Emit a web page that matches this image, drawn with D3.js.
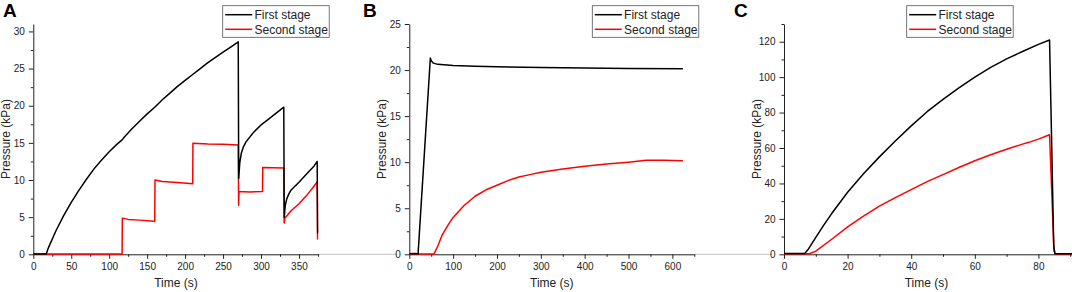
<!DOCTYPE html>
<html>
<head>
<meta charset="utf-8">
<script src="https://cdn.jsdelivr.net/npm/d3@7"></script>
<style>
  body { margin: 0; background: #fff; }
  svg { display: block; font-family: "Liberation Sans", Arial, sans-serif; }
</style>
</head>
<body>
<div id="chart"></div>
<script>
// ---- data (time s, pressure kPa) ----
const seriesNames = ["First stage", "Second stage"];
const seriesColors = ["#000000", "#ff0000"];

const aFirst = [[0,0.05],[17,0.05],[20,0.9],[30,3.2],[40,5.2],[50,7.0],[60,8.6],[70,10.1],[80,11.5],[90,12.7],[100,13.8],[110,14.8],[117,15.4],[120,15.8],[130,16.9],[140,17.9],[150,18.9],[160,19.8],[170,20.8],[180,21.7],[190,22.6],[200,23.4],[210,24.2],[220,25.0],[230,25.8],[240,26.5],[250,27.2],[260,27.9],[270,28.6],[270.6,10.2],[272,12.3],[274,13.6],[277,14.5],[280,15.1],[290,16.4],[301,17.5],[310,18.2],[320,19.0],[330,19.8],[330.6,5.0],[332,6.6],[334,7.5],[337,8.2],[340,8.7],[350,9.7],[360,10.8],[370,11.9],[374,12.5],[374.6,2.8]];
const aSecond = [[0,0.05],[117,0.05],[117.3,4.85],[125,4.7],[140,4.6],[160,4.45],[160.3,10.0],[170,9.8],[190,9.65],[210,9.5],[210.3,14.95],[230,14.85],[250,14.8],[270,14.7],[270.5,6.6],[271,8.45],[285,8.4],[302,8.45],[302.3,11.7],[315,11.65],[330,11.6],[330.5,4.2],[331.5,4.9],[335,5.3],[340,5.9],[350,6.8],[360,7.9],[370,9.2],[374,9.75],[374.5,2.0]];

const bFirst = [[0,0.05],[20,0.05],[48,21.3],[50,21.0],[55,20.75],[65,20.62],[100,20.5],[150,20.42],[200,20.36],[300,20.28],[400,20.22],[500,20.17],[624,20.14]];
const bSecond = [[0,0.1],[15,0.1],[20,0.02],[56,0.02],[65,0.9],[75,2.1],[90,3.3],[100,4.0],[125,5.3],[150,6.3],[175,7.0],[200,7.5],[225,8.0],[250,8.4],[275,8.65],[300,8.9],[350,9.25],[400,9.55],[450,9.8],[500,10.0],[540,10.2],[580,10.2],[624,10.15]];

const cFirst = [[0,0.5],[6.5,0.5],[7.5,2.5],[10,9.5],[12.5,16.5],[15,23],[20,35],[25,45.5],[30,55],[35,64],[40,72.5],[45,80.5],[50,87.5],[55,94],[60,100],[65,105.5],[70,110.3],[75,114.5],[80,118.5],[83.5,121],[84.2,60],[84.8,5],[85.2,0.3],[91,0.3]];
const cSecond = [[0,0.3],[8,0.3],[10,1.8],[15,8.5],[20,15.5],[25,21.5],[30,27.2],[35,32],[40,36.5],[45,41],[50,45],[55,49],[60,52.8],[65,56.2],[70,59.3],[75,62.2],[77,63.2],[80,65],[83.5,67.5],[84.3,30],[84.9,2],[85.3,0.2],[91,0.2]];

// ticks
const aXMajor = [0,50,100,150,200,250,300,350];
const aXMinor = [25,75,125,175,225,275,325,375];
const aYMajor = [0,5,10,15,20,25,30];
const aYMinor = [2.5,7.5,12.5,17.5,22.5,27.5];
const bXMajor = [0,100,200,300,400,500,600];
const bXMinor = [50,150,250,350,450,550,650];
const bYMajor = [0,5,10,15,20,25];
const bYMinor = [2.5,7.5,12.5,17.5,22.5];
const cXMajor = [0,20,40,60,80];
const cXMinor = [10,30,50,70,90];
const cYMajor = [0,20,40,60,80,100,120];
const cYMinor = [10,30,50,70,90,110,130];

// ---- layout ----
const W = 1072, H = 292;
const yTop = 24, yBottom = 254.3;

const panels = [
  {label: "A", left: 33.3, right: 318.7, xDomain: [0,376], yDomain: [0,31],
   first: aFirst, second: aSecond, xMajor: aXMajor, xMinor: aXMinor, yMajor: aYMajor, yMinor: aYMinor,
   legendX: 222.7, titleX: 3},
  {label: "B", left: 409.3, right: 694.3, xDomain: [0,650], yDomain: [0,25],
   first: bFirst, second: bSecond, xMajor: bXMajor, xMinor: bXMinor, yMajor: bYMajor, yMinor: bYMinor,
   legendX: 592.3, titleX: 363},
  {label: "C", left: 784, right: 1073.4, xDomain: [0,91], yDomain: [0,130],
   first: cFirst, second: cSecond, xMajor: cXMajor, xMinor: cXMinor, yMajor: cYMajor, yMinor: cYMinor,
   legendX: 906.7, titleX: 734}
];

const svg = d3.select("#chart").append("svg")
  .attr("width", W)
  .attr("height", H);

// faint baseline running through the gaps between the panels
panels.forEach(function(p, i) {
  if (i < panels.length - 1) {
    svg.append("line")
      .attr("x1", p.right).attr("x2", panels[i + 1].left - 12)
      .attr("y1", yBottom).attr("y2", yBottom)
      .attr("stroke", "#c4c4c4").attr("stroke-width", 1);
  }
});

panels.forEach(function(p) {
  const x = d3.scaleLinear().domain(p.xDomain).range([p.left, p.right]);
  const y = d3.scaleLinear().domain(p.yDomain).range([yBottom, yTop]);
  const g = svg.append("g");

  // clip so the data stays inside the page width
  const clipId = "clip" + p.label;
  svg.append("clipPath").attr("id", clipId).append("rect")
    .attr("x", p.left).attr("y", 0).attr("width", Math.min(p.right, W) - p.left).attr("height", H);

  // axes: minor ticks first, then majors with labels
  g.append("g").attr("transform", "translate(0," + yBottom + ")")
    .call(d3.axisBottom(x).tickValues(p.xMinor).tickSize(2.5).tickSizeOuter(0).tickFormat(""))
    .call(s => s.select(".domain").remove());
  g.append("g").attr("transform", "translate(" + p.left + ",0)")
    .call(d3.axisLeft(y).tickValues(p.yMinor).tickSize(2.5).tickSizeOuter(0).tickFormat(""))
    .call(s => s.select(".domain").remove());

  const xAx = g.append("g").attr("transform", "translate(0," + yBottom + ")")
    .call(d3.axisBottom(x).tickValues(p.xMajor).tickSize(4.5).tickSizeOuter(0).tickPadding(4));
  const yAx = g.append("g").attr("transform", "translate(" + p.left + ",0)")
    .call(d3.axisLeft(y).tickValues(p.yMajor).tickSize(4.5).tickSizeOuter(0).tickPadding(4));

  [xAx, yAx].forEach(function(a) {
    a.selectAll("text").attr("font-size", 10).attr("fill", "#222")
      .style("font-family", "'Liberation Sans', Arial, sans-serif");
    a.selectAll("line").attr("stroke", "#222");
    a.select(".domain").attr("stroke", "#222");
  });
  g.selectAll(".tick line").attr("stroke", "#222");

  // series: second stage under first stage
  const line = d3.line().x(d => x(d[0])).y(d => y(d[1]));
  const plot = g.append("g").attr("clip-path", "url(#" + clipId + ")");
  [p.second, p.first].forEach(function(s, i) {
    plot.append("path")
      .datum(s)
      .attr("d", line)
      .attr("fill", "none")
      .attr("stroke", seriesColors[1 - i])
      .attr("stroke-width", 1.5)
      .attr("stroke-linejoin", "round");
  });

  // axis titles
  g.append("text")
    .attr("x", (p.left + Math.min(p.right, 1069)) / 2)
    .attr("y", 287)
    .attr("text-anchor", "middle")
    .attr("font-size", 12)
    .attr("fill", "#222")
    .text("Time (s)");
  g.append("text")
    .attr("transform", "translate(" + (p.left - 23.5) + ",139) rotate(-90)")
    .attr("text-anchor", "middle")
    .attr("font-size", 12)
    .attr("fill", "#222")
    .text("Pressure (kPa)");

  // panel letter
  g.append("text")
    .attr("x", p.titleX).attr("y", 17.3)
    .attr("font-size", 19)
    .attr("font-weight", "bold")
    .attr("fill", "#000")
    .text(p.label);

  // legend
  const lg = g.append("g").attr("transform", "translate(" + p.legendX + ",5.7)");
  lg.append("rect")
    .attr("width", 106.5).attr("height", 31.6)
    .attr("fill", "#fff").attr("stroke", "#555").attr("stroke-width", 0.8);
  seriesNames.forEach(function(name, i) {
    const ly = 9 + i * 14.6;
    lg.append("line")
      .attr("x1", 2.5).attr("x2", 29.5)
      .attr("y1", ly).attr("y2", ly)
      .attr("stroke", seriesColors[i]).attr("stroke-width", 1.5);
    lg.append("text")
      .attr("x", 31.8).attr("y", ly + 4.3)
      .attr("font-size", 12)
      .attr("fill", "#222")
      .text(name);
  });
});
</script>
</body>
</html>
